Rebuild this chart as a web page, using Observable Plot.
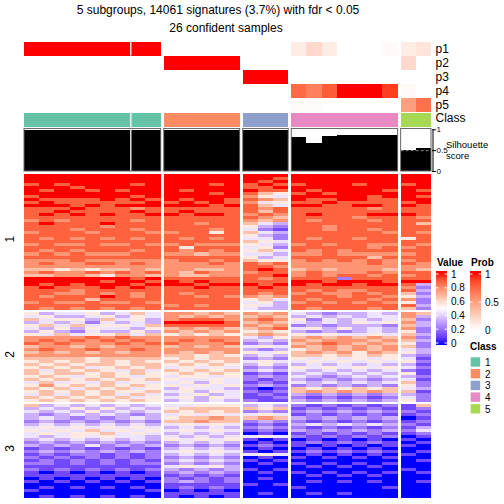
<!DOCTYPE html>
<html><head><meta charset="utf-8">
<script src="https://cdn.jsdelivr.net/npm/d3@7"></script>
<script src="https://cdn.jsdelivr.net/npm/@observablehq/plot@0.6"></script>
<style>
body{margin:0;background:white;}
#chart{position:relative;width:504px;height:504px;font-family:"Liberation Sans",Arial,sans-serif;}
#chart svg{position:absolute;left:0;top:0;}
</style></head><body><div id="chart"></div>
<script>
// ---------------- data ----------------
const titleLine1 = "5 subgroups, 14061 signatures (3.7%) with fdr < 0.05";
const titleLine2 = "26 confident samples";
const classNames = [1, 2, 3, 4, 5];
const classColors = ["#66C2A5", "#FC8D62", "#8DA0CB", "#E78AC3", "#A6D854"];
const sampleClass = [1,1,1,1,1,1,1,1,1, 2,2,2,2,2, 3,3,3, 4,4,4,4,4,4,4, 5,5];
const probNames = ["p1", "p2", "p3", "p4", "p5"];
const p1 = [1,1,1,1,1,1,1,1,1, 0,0,0,0,0, 0,0,0, 0.1,0.2,0.1,0,0,0,0.03, 0.1,0.14];
const p2 = [0,0,0,0,0,0,0,0,0, 1,1,1,1,1, 0,0,0, 0,0,0,0,0,0,0, 0.2,0];
const p3 = [0,0,0,0,0,0,0,0,0, 0,0,0,0,0, 1,1,1, 0,0,0,0,0,0,0, 0,0];
const p4 = [0,0,0,0,0,0,0,0,0, 0,0,0,0,0, 0,0,0, 0.75,0.65,0.8,1,1,1,0.9, 0.03,0];
const p5 = [0,0,0,0,0,0,0,0,0, 0,0,0,0,0, 0,0,0, 0.02,0.02,0,0,0,0,0, 0.5,0.72];
const silhouette = [0.98,0.98,0.98,0.98,0.98,0.98,0.98,0.98,0.98, 0.98,0.98,0.98,0.98,0.98, 0.98,0.98,0.98, 0.82,0.67,0.84,0.86,0.86,0.86,0.86, 0.5,0.55];
const silTicks = [0, 0.5, 1];
const valueTicks = [0, 0.2, 0.4, 0.6, 0.8, 1];
const probTicks = [0, 0.5, 1];
const rowGroupLabels = ["1", "2", "3"];
// heatmap rows: digit d -> value d/9 ; columns grouped by class (9 5 3 7 2)
const heatRows1 = [
"999999999 99999 999 9999999 99",
"999999999 99999 998 9999999 99",
"999999999 99999 989 9999999 99",
"898999989 99989 898 8999899 89",
"999899999 99999 889 9999999 99",
"989989899 98999 988 9899998 98",
"999999999 99989 865 8989999 99",
"899999989 99999 754 9999989 98",
"988889898 98998 876 9889988 99",
"898888889 89898 745 8898888 89",
"999898999 99989 864 9988998 98",
"888988878 88888 878 8888878 88",
"889888898 89888 868 8888888 88",
"898989889 98998 787 8988899 98",
"888888888 88888 876 8888788 87",
"787888878 88888 767 8788878 88",
"898889888 88788 643 8888888 86",
"888887888 88888 532 8878888 88",
"888788878 88878 421 8878878 88",
"788878887 78858 643 8888887 87",
"888888888 88888 532 8888888 88",
"878787878 87878 442 8788788 58",
"888888888 88888 654 8888888 88",
"787787787 78777 543 7878877 87",
"888888888 85888 452 8888878 78",
"878788878 87878 564 8787888 88",
"787877788 77677 443 7787777 78",
"888888888 88888 534 8888868 88",
"777877777 78878 655 7878787 78",
"787788787 77787 878 7777787 87",
"777777777 77777 887 7777777 77",
"665656676 77667 898 6767776 76",
"787787878 76877 788 7877787 88",
"667765776 76677 889 7878878 78",
"999999989 88888 878 8882888 88",
"999998998 98988 888 9989998 99",
"989899989 99899 989 9899899 83",
"898889898 88988 898 8888888 72",
"888788888 88888 888 8787788 83",
"887787878 87888 878 7877878 62",
"878889878 88787 767 8887887 53",
"888868888 88888 564 8788878 72",
"787787787 88888 453 7878787 52",
"888888888 78788 543 8888888 83",
"878787878 88888 433 8788878 62"
];
const heatRows2 = [
"534453464 77676 767 4323343 76",
"453345354 76767 676 3434344 73",
"645536453 78887 787 5243434 62",
"343424343 99998 676 4343545 73",
"564645546 88888 767 2323332 63",
"435354435 67676 678 4535343 72",
"353243353 76767 565 3232343 52",
"546455646 56565 676 5454454 63",
"777787877 77777 435 6767676 72",
"787878787 78787 343 7677767 63",
"878777878 87778 232 6787676 52",
"677676777 67676 454 7676767 62",
"787787787 77777 323 5676767 43",
"676767677 76767 545 6767576 53",
"777777777 66565 343 6656565 32",
"666656666 56566 232 5454545 41",
"565656565 65656 454 4545454 52",
"656566566 56565 353 3434343 31",
"565645656 45454 232 5454545 42",
"646565464 65656 343 4343434 21",
"656656565 56565 121 3434343 51",
"565456545 45545 232 4323434 32",
"656565656 54454 212 3232323 41",
"464546454 45354 121 4343434 62",
"575656565 54545 232 2323232 52",
"656465645 35443 101 6565656 43",
"565656556 45354 212 6767676 61",
"464656464 34534 121 3232323 32",
"656565645 45354 112 2121212 42",
"565656565 34343 211 3232323 52"
];
const heatRows3 = [
"634343434 44555 343 2121212 16",
"343535343 56666 656 1212121 12",
"434353434 65656 232 2323232 21",
"323434323 45454 454 1212121 12",
"343232343 56676 676 3232323 01",
"232323232 66766 232 2121212 12",
"343434343 45454 121 3434343 21",
"454545454 34343 232 2121212 13",
"545464545 45454 121 3232323 24",
"454556454 34343 010 1212121 12",
"434545443 43434 454 2121212 01",
"343434343 54545 101 0101010 10",
"232323232 34343 010 1212121 01",
"323242323 23232 121 1010101 10",
"121212121 34343 010 0101010 00",
"232323232 45454 101 1212121 01",
"121221212 34343 454 0101010 10",
"212121212 23232 010 1010101 00",
"121212121 34343 101 0000000 01",
"221212122 23232 010 1010101 00",
"111111111 45453 000 0101010 00",
"212121212 32323 101 0000000 10",
"101010101 23232 010 1010101 01",
"111111111 12121 000 0101010 00",
"010101010 21212 010 0000000 00",
"101010101 23212 000 0101010 01",
"000000000 11111 101 0000000 00",
"010101010 12121 000 1000001 00",
"100000001 01010 000 0000000 00",
"000000000 11111 010 0101000 00",
"010101010 10101 000 0000000 00"
];

// ---------------- derived tables ----------------
const FONT = '"Liberation Sans", Arial, sans-serif';
const W = 504, H = 504;
const colGap = 0.2, rowGap = 0.66;
const pos = sampleClass.map((c, i) => i + (c - 1) * colGap);
const xMax = sampleClass.length + (classNames.length - 1) * colGap;
const xScale = {domain: [0, xMax], axis: null};
const ML = 24, MR = 73;
const samples = sampleClass.map((c, i) => ({i, cls: c, x1: pos[i], x2: pos[i] + 1, sil: silhouette[i]}));
const groups = classNames.map(c => {
  const s = samples.filter(d => d.cls === c);
  return {cls: c, x1: d3.min(s, d => d.x1), x2: d3.max(s, d => d.x2)};
});
const probArrays = [p1, p2, p3, p4, p5];
const probData = [];
samples.forEach((s, i) => probNames.forEach((n, k) => probData.push({x1: s.x1, x2: s.x2, row: n, v: probArrays[k][i]})));
const splitAt = [pos[7]];

const cells = [];
const mids = [];
let off = 0;
[heatRows1, heatRows2, heatRows3].forEach((rows, g) => {
  const start = off;
  rows.forEach(str => {
    const dg = str.replace(/ /g, "");
    for (let i = 0; i < dg.length; i++) cells.push({x1: pos[i], x2: pos[i] + 1, y1: off, y2: off + 1, v: +dg[i] / 9});
    off += 1;
  });
  mids.push({y: (start + off) / 2, label: rowGroupLabels[g]});
  off += rowGap;
});
const yMax = off - rowGap;

const valueColor = {type: "linear", domain: [0, 0.5, 1], range: ["blue", "white", "red"], interpolate: d3.interpolateLab};
const probColor = {type: "linear", domain: [0, 1], range: ["white", "red"], interpolate: d3.interpolateLab};

const chart = document.getElementById("chart");
function base(style) {
  return {width: W, height: H, marginLeft: ML, marginRight: MR,
    style: Object.assign({background: "transparent", overflow: "visible", fontFamily: FONT, fontSize: "12px", color: "black"}, style || {})};
}

// prob annotation rows
chart.append(Plot.plot(Object.assign(base(), {
  marginTop: 41, marginBottom: H - 112,
  x: xScale,
  y: {type: "band", domain: probNames, padding: 0, axis: "right", tickSize: 0, tickPadding: 4, label: null},
  color: probColor,
  marks: [
    Plot.barX(probData, {x1: "x1", x2: "x2", y: "row", fill: "v", shapeRendering: "crispEdges"})
  ]
})));
// white split inside p1 row
chart.append(Plot.plot(Object.assign(base(), {
  marginTop: 41, marginBottom: H - 55.5,
  x: xScale, y: {domain: [0, 1], axis: null},
  marks: [Plot.ruleX(splitAt, {stroke: "white", strokeWidth: 1.3})]
})));

// class row
chart.append(Plot.plot(Object.assign(base(), {
  marginTop: 113, marginBottom: H - 127,
  x: xScale,
  y: {type: "band", domain: ["Class"], padding: 0, axis: null},
  color: {type: "ordinal", domain: classNames, range: classColors},
  marks: [
    Plot.barX(samples, {x1: "x1", x2: "x2", y: () => "Class", fill: "cls", shapeRendering: "crispEdges"}),
    Plot.ruleX(splitAt, {stroke: "white", strokeWidth: 1.3}),
    Plot.text(["Class"], {text: d => d, frameAnchor: "right", dx: 4, dy: -2, textAnchor: "start", fontSize: 12, fill: "black"})
  ]
})));

// silhouette
const g5 = groups[groups.length - 1];
chart.append(Plot.plot(Object.assign(base({fontSize: "8px"}), {
  marginTop: 129.3, marginBottom: H - 171,
  x: xScale,
  y: {domain: [0, 1], axis: "right", ticks: silTicks, tickSize: 4, tickPadding: 1, tickFormat: d => String(d), label: null},
  marks: [
    Plot.rect(groups, {x1: "x1", x2: "x2", y1: 0, y2: 1.02, fill: "white"}),
    Plot.rect(samples, {x1: "x1", x2: "x2", y1: 0, y2: "sil", fill: "black", shapeRendering: "crispEdges"}),
    Plot.ruleY([0.5], {x1: g5.x1, x2: g5.x2, stroke: "#888", strokeDasharray: "3,2"}),
    Plot.ruleX(splitAt, {y1: 0, y2: 1.02, stroke: "white", strokeWidth: 1.3}),
    Plot.rect(groups, {x1: "x1", x2: "x2", y1: 0, y2: 1.02, fill: "none", stroke: "#666", strokeWidth: 1}),
    Plot.ruleX([xMax], {y1: 0, y2: 1, dx: 1.5, stroke: "black"})
  ]
})));

// heatmap body
chart.append(Plot.plot(Object.assign(base(), {
  marginTop: 174, marginBottom: H - 498,
  x: xScale,
  y: {domain: [0, yMax], reverse: true, axis: null},
  color: valueColor,
  marks: [
    Plot.rect(cells, {x1: "x1", x2: "x2", y1: "y1", y2: "y2", fill: "v", shapeRendering: "crispEdges"}),
    Plot.text(mids, {y: "y", text: "label", frameAnchor: "left", dx: -14, rotate: -90, fontSize: 12, fill: "black"})
  ]
})));

// ---------------- titles & legends ----------------
const svg = d3.select(chart).append("svg").attr("width", W).attr("height", H)
  .style("font-family", FONT).style("pointer-events", "none");
svg.append("text").attr("x", 218).attr("y", 14).attr("text-anchor", "middle").attr("font-size", 12).text(titleLine1);
svg.append("text").attr("x", 226).attr("y", 32).attr("text-anchor", "middle").attr("font-size", 12).text(titleLine2);
svg.append("text").attr("x", 446).attr("y", 148).attr("font-size", 9.5).text("Silhouette");
svg.append("text").attr("x", 446).attr("y", 159).attr("font-size", 9.5).text("score");

const defs = svg.append("defs");
function ramp(id, scaleFn, x, yTop, yBot, y1v, y0v, ticks, title, labelFmt) {
  const grad = defs.append("linearGradient").attr("id", id).attr("x1", 0).attr("x2", 0).attr("y1", 0).attr("y2", 1);
  const n = 20;
  for (let k = 0; k <= n; k++) {
    const py = yTop + (yBot - yTop) * k / n;
    let v = (y0v - py) / (y0v - y1v);
    v = Math.max(0, Math.min(1, v));
    grad.append("stop").attr("offset", k / n).attr("stop-color", scaleFn(v));
  }
  svg.append("rect").attr("x", x).attr("y", yTop).attr("width", 11).attr("height", yBot - yTop).attr("fill", `url(#${id})`);
  svg.append("text").attr("x", x + 1).attr("y", yTop - 5).attr("font-size", 10).attr("font-weight", "bold").text(title);
  ticks.forEach(t => {
    const py = y0v - t * (y0v - y1v);
    svg.append("line").attr("x1", x).attr("x2", x + 2.5).attr("y1", py).attr("y2", py).attr("stroke", "white");
    svg.append("line").attr("x1", x + 8.5).attr("x2", x + 11).attr("y1", py).attr("y2", py).attr("stroke", "white");
    svg.append("text").attr("x", x + 15).attr("y", py + 3.5).attr("font-size", 10).text(labelFmt(t));
  });
}
const vScale = d3.scaleLinear().domain([0, 0.5, 1]).range(["blue", "white", "red"]).interpolate(d3.interpolateLab);
const pScale = d3.scaleLinear().domain([0, 1]).range(["white", "red"]).interpolate(d3.interpolateLab);
ramp("gv", vScale, 436, 271, 345, 274, 343, valueTicks, "Value", t => String(t));
ramp("gp", pScale, 470, 271, 332, 274, 330, probTicks, "Prob", t => String(t));

svg.append("text").attr("x", 470).attr("y", 350).attr("font-size", 10).attr("font-weight", "bold").text("Class");
classNames.forEach((c, k) => {
  const y = 357.3 + k * 11.7;
  svg.append("rect").attr("x", 470.7).attr("y", y).attr("width", 9.5).attr("height", 9.4).attr("fill", classColors[k]);
  svg.append("text").attr("x", 485).attr("y", y + 8.5).attr("font-size", 10).text(String(c));
});
</script></body></html>
